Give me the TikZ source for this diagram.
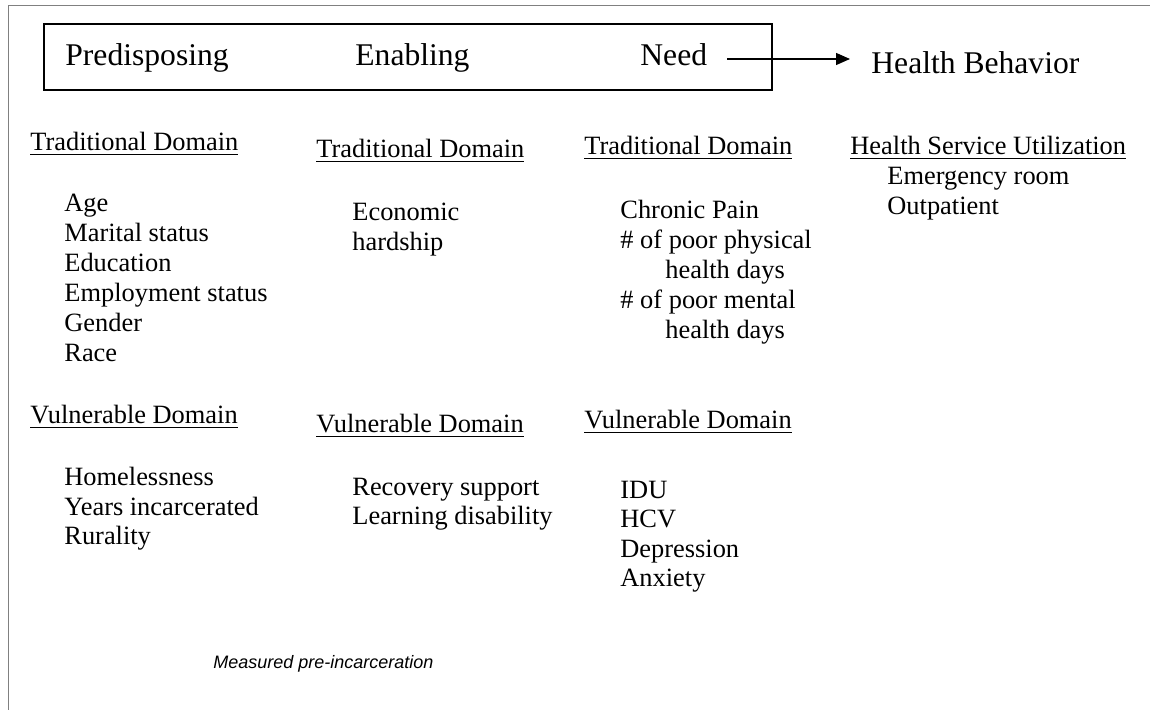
\documentclass[tikz,border=0pt]{standalone}
\usepackage{fontspec}
\setmainfont{Liberation Serif}
\newfontfamily\notefont{Liberation Sans}
\usetikzlibrary{arrows.meta}

\begin{document}
\begin{tikzpicture}[x=0.5pt, y=-0.5pt,
  txt/.style={inner sep=0pt, anchor=base west, font=\fontsize{13.2}{15}\selectfont},
  big/.style={txt, font=\fontsize{15.8}{19}\selectfont},
  arr/.style={line width=0.65pt, -{Triangle[length=7pt,width=6pt]}}
]
\useasboundingbox (0,0) rectangle (1150,710);

% page frame and the factor box
\draw[gray, line width=0.5pt] (1150,6) -- (8,6) -- (8,710);
\draw[line width=1pt] (44,24) rectangle (772,90);

\node[big] (predis) at (65,66) {Predisposing};
\node[big] (enab) at (355,66) {Enabling};
\node[big] (need) at (640,66) {Need};
\node[big] (behav) at (871,74) {Health Behavior};
\draw[arr] ([xshift=10pt,yshift=3.5pt]need.base east) --
  ([xshift=-10.5pt,yshift=7.5pt]behav.base west);

% traditional domain
\node[txt] (tradA) at (30,151) {\underline{Traditional Domain}};
\node[txt] (tradB) at (316,158) {\underline{Traditional Domain}};
\node[txt] (tradC) at (584,155) {\underline{Traditional Domain}};
\node[txt] (hsu) at (850,155) {\underline{Health Service Utilization}};

\foreach \t [count=\i from 0] in {Age, Marital status, Education,
    Employment status, Gender, Race}
  \node[txt] (predisT\i) at (64,212+30*\i) {\t};
\foreach \t [count=\i from 0] in {Economic, hardship}
  \node[txt] (enabT\i) at (352,221+30*\i) {\t};
\foreach \t [count=\i from 0] in {Chronic Pain, \# of poor physical,
    \hspace*{22.5pt}health days, \# of poor mental, \hspace*{22.5pt}health days}
  \node[txt] (needT\i) at (620,219+30*\i) {\t};
\foreach \t [count=\i from 0] in {Emergency room, Outpatient}
  \node[txt] (use\i) at (887,185+30*\i) {\t};

% vulnerable domain
\node[txt] (vulnA) at (30,424) {\underline{Vulnerable Domain}};
\node[txt] (vulnB) at (316,433) {\underline{Vulnerable Domain}};
\node[txt] (vulnC) at (584,429) {\underline{Vulnerable Domain}};

\foreach \t [count=\i from 0] in {Homelessness, Years incarcerated, Rurality}
  \node[txt] (predisV\i) at (64,486+29.5*\i) {\t};
\foreach \t [count=\i from 0] in {Recovery support, Learning disability}
  \node[txt] (enabV\i) at (352,495+29.5*\i) {\t};
\foreach \t [count=\i from 0] in {IDU, HCV, Depression, Anxiety}
  \node[txt] (needV\i) at (620,498+29.5*\i) {\t};

\node[txt, font=\fontsize{9}{11}\selectfont\notefont\itshape] (note) at (213,668)
  {Measured pre-incarceration};
\end{tikzpicture}
\end{document}
